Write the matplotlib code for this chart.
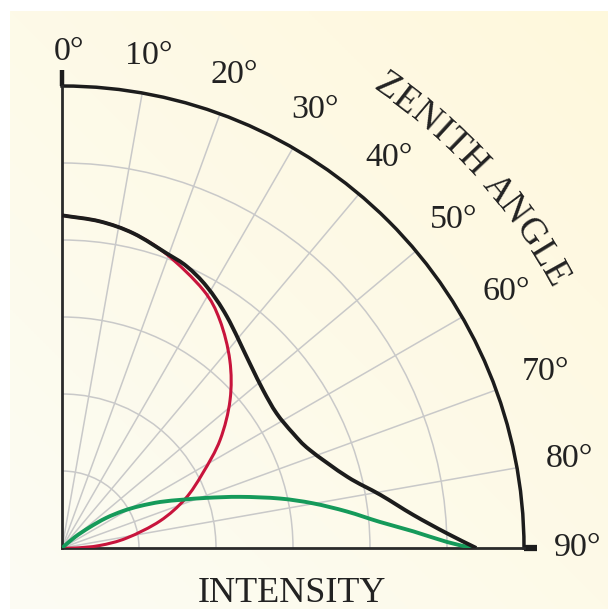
import numpy as np
import matplotlib.pyplot as plt
from matplotlib.font_manager import FontProperties
from matplotlib.patches import PathPatch
from matplotlib.path import Path
from matplotlib.textpath import TextToPath

# zenith angle (deg) and intensity (grid units)
total_deg = [0, 6.6, 12.8, 19.6, 23.9, 29.0, 35.5, 45.5, 51.9, 57.9, 63.6, 68.4,
             76.0, 80.5, 84.6, 87.8, 90]
total_r = [4.32, 4.27, 4.19, 4.06, 4.00, 3.88, 3.69, 3.42, 3.32, 3.29, 3.35, 3.46,
           3.82, 4.19, 4.58, 5.00, 5.38]

direct_deg = [0, 6.6, 12.8, 19.6, 28.7, 34.7, 41.8, 48.6, 55.6, 62.0, 68.3,
              74.6, 81.25, 86.2, 90, 90]
direct_r = [4.32, 4.27, 4.19, 4.05, 3.82, 3.60, 3.27, 2.91, 2.49, 2.07, 1.72,
            1.32, 0.85, 0.49, 0.17, 0.0]

diffuse_deg = [45, 49.8, 53.1, 55.7, 58.8, 61.7, 64.9, 68.2, 70.9, 74.0, 77.2,
               79.9, 82.7, 85.3, 87.3, 89.1, 90]
diffuse_r = [0.0, 0.22, 0.45, 0.69, 0.93, 1.15, 1.41, 1.69, 1.99, 2.41, 2.90,
             3.31, 3.73, 4.14, 4.57, 5.00, 5.33]

angle_ticks = [0, 10, 20, 30, 40, 50, 60, 70, 80, 90]
ring_radii = [1, 2, 3, 4, 5]
r_max = 6

serif = 'Liberation Serif'
ink = '#1c1c1c'


def smooth_path(deg, r):
    # Catmull-Rom through the readings, built as cubic Beziers in x/y and
    # handed back to the polar axes as (theta, r) vertices
    th = np.deg2rad(deg)
    r = np.asarray(r, float)
    p = np.column_stack([r * np.sin(th), r * np.cos(th)])
    ext = np.vstack([2 * p[0] - p[1], p, 2 * p[-1] - p[-2]])
    verts, codes = [p[0]], [Path.MOVETO]
    for i in range(len(p) - 1):
        p0, p1, p2, p3 = ext[i:i + 4]
        verts += [p1 + (p2 - p0) / 6, p2 - (p3 - p1) / 6, p2]
        codes += [Path.CURVE4] * 3
    v = np.array(verts)
    return Path(np.column_stack([np.arctan2(v[:, 0], v[:, 1]), np.hypot(v[:, 0], v[:, 1])]),
                codes)


fig = plt.figure(figsize=(6.08, 6.09), dpi=100)
fig.patch.set_facecolor('white')

# cream paper with a faint diagonal shading
bg = fig.add_axes([10 / 608, 0, 598 / 608, 598 / 609])
bg.set_axis_off()
gx, gy = np.meshgrid(np.linspace(0, 1, 200), np.linspace(0, 1, 200))
t = ((gx + gy) / 2)[..., None]
c_lo = np.array([252, 252, 244]) / 255
c_hi = np.array([255, 248, 220]) / 255
bg.imshow(c_lo + (c_hi - c_lo) * t, origin='lower', extent=[0, 1, 0, 1], aspect='auto')

ax = fig.add_axes([62 / 608, 61 / 609, 462 / 608, 462 / 609], projection='polar')
ax.set_theta_zero_location('N')
ax.set_theta_direction(-1)
ax.set_thetamin(0)
ax.set_thetamax(90)
ax.set_ylim(0, r_max)
ax.patch.set_alpha(0)

ax.set_thetagrids(angle_ticks[1:-1], labels=[''] * (len(angle_ticks) - 2))
ax.set_rgrids(ring_radii, labels=[''] * len(ring_radii))
ax.grid(True, color='#c9c9c9', lw=1.1)
ax.tick_params(axis='x', direction='out', length=7, width=2, color=ink, pad=0)
ax.tick_params(axis='y', length=0)

ax.spines['polar'].set_linewidth(2.5)
ax.spines['polar'].set_color(ink)
for side in ('start', 'end'):
    ax.spines[side].set_linewidth(2)
    ax.spines[side].set_color('#2a2a2a')

# end ticks at 0 and 90 degrees
ax.plot([0, 0], [r_max, r_max + 0.21], color=ink, lw=3.2, clip_on=False,
        solid_capstyle='butt')
ax.plot([np.pi / 2] * 2, [r_max, r_max + 0.17], color=ink, lw=4.5, clip_on=False,
        solid_capstyle='butt')

for deg, r, col, lw, z in [(direct_deg, direct_r, '#c8143c', 2.2, 3),
                           (diffuse_deg, diffuse_r, '#159a5a', 2.8, 3),
                           (total_deg, total_r, ink, 2.8, 4)]:
    ax.add_patch(PathPatch(smooth_path(deg, r), facecolor='none', edgecolor=col,
                           lw=lw, zorder=z, transform=ax.transData))

for a in angle_ticks:
    pos = max(a, 0.8)
    ax.text(np.deg2rad(pos), 6.45 + 0.25 * np.sin(np.deg2rad(a)), f'{a}°',
            family=serif, fontsize=24.5, color='#222222', ha='center', va='center')

# curved axis title along the outer arc
title = 'ZENITH ANGLE'
fp = FontProperties(family=serif, size=26.5)
t2p = TextToPath()
w = lambda s: t2p.get_text_width_height_descent(s + 'x', fp, ismath=False)[0] - \
    t2p.get_text_width_height_descent('x', fp, ismath=False)[0]
centers = [w(title[:i]) + w(title[i]) / 2 if title[i] != ' ' else None
           for i in range(len(title))]
c0, c1 = centers[0], centers[-1]
for ch, c in zip(title, centers):
    if c is None:
        continue
    th = 35.2 + (c - c0) / (c1 - c0) * (61.0 - 35.2)
    ax.text(np.deg2rad(th), 7.32, ch, fontproperties=fp, color='#222222',
            rotation=-th, rotation_mode='anchor', ha='center', va='center')

fig.text(292 / 608, 1 - 602 / 609, 'INTENSITY', family=serif, fontsize=26,
         color='#222222', ha='center', va='baseline')

fig.savefig('out.png', dpi=100)
